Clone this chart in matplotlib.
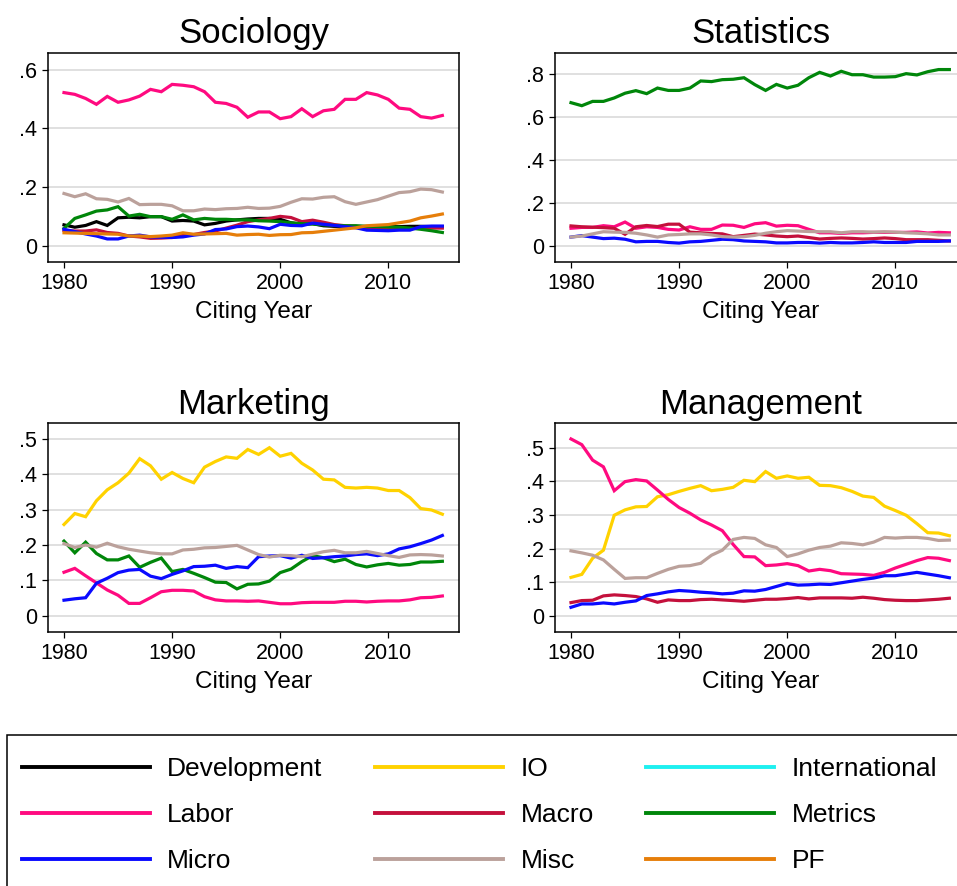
import matplotlib
matplotlib.use("Agg")
import matplotlib.pyplot as plt
from matplotlib.lines import Line2D
from matplotlib.patches import Rectangle
from matplotlib.ticker import FuncFormatter

plt.rcParams['font.family'] = ['Liberation Sans', 'DejaVu Sans']

years = list(range(1980, 2016))

# legend order (row by row)
fields = ['Development', 'IO', 'International',
          'Labor', 'Macro', 'Metrics',
          'Micro', 'Misc', 'PF']
colors = {'Development': '#000000', 'IO': '#FFD200', 'International': '#1EF0F0',
          'Labor': '#FF0A80', 'Macro': '#C4103C', 'Metrics': '#00860A',
          'Micro': '#0A0AFF', 'Misc': '#BBA19B', 'PF': '#E67E0A'}

# Sociology
soc_development = [0.071, 0.063, 0.069, 0.082, 0.069, 0.095, 0.097, 0.095, 0.099, 0.099,
                   0.084, 0.086, 0.084, 0.071, 0.076, 0.084, 0.088, 0.091, 0.093, 0.093,
                   0.090, 0.078, 0.073, 0.075, 0.068, 0.066, 0.065, 0.066, 0.065, 0.064,
                   0.065, 0.065, 0.066, 0.066, 0.065, 0.065]
soc_labor = [0.522, 0.516, 0.502, 0.482, 0.509, 0.489, 0.497, 0.510, 0.533, 0.525,
             0.550, 0.547, 0.542, 0.525, 0.489, 0.485, 0.472, 0.438, 0.456, 0.456,
             0.433, 0.440, 0.467, 0.440, 0.460, 0.465, 0.499, 0.499, 0.522, 0.514,
             0.499, 0.469, 0.465, 0.440, 0.435, 0.444]
soc_macro = [0.052, 0.050, 0.050, 0.054, 0.045, 0.042, 0.033, 0.030, 0.025, 0.026,
             0.028, 0.035, 0.038, 0.045, 0.050, 0.060, 0.070, 0.082, 0.088, 0.093,
             0.100, 0.096, 0.082, 0.087, 0.080, 0.072, 0.068, 0.066, 0.060, 0.058,
             0.057, 0.060, 0.058, 0.060, 0.060, 0.060]
soc_metrics = [0.059, 0.093, 0.105, 0.118, 0.122, 0.133, 0.101, 0.107, 0.099, 0.099,
               0.090, 0.105, 0.088, 0.093, 0.090, 0.090, 0.088, 0.088, 0.085, 0.084,
               0.082, 0.078, 0.075, 0.074, 0.071, 0.069, 0.068, 0.068, 0.066, 0.065,
               0.064, 0.063, 0.060, 0.056, 0.051, 0.045]
soc_micro = [0.056, 0.048, 0.040, 0.033, 0.023, 0.023, 0.033, 0.036, 0.030, 0.029,
             0.028, 0.030, 0.036, 0.040, 0.055, 0.057, 0.065, 0.067, 0.064, 0.058,
             0.073, 0.069, 0.068, 0.077, 0.073, 0.069, 0.065, 0.061, 0.053, 0.052,
             0.051, 0.053, 0.053, 0.065, 0.067, 0.067]
soc_misc = [0.178, 0.167, 0.177, 0.160, 0.158, 0.149, 0.161, 0.140, 0.141, 0.141,
            0.136, 0.119, 0.119, 0.125, 0.123, 0.126, 0.127, 0.131, 0.127, 0.128,
            0.134, 0.148, 0.160, 0.159, 0.165, 0.167, 0.150, 0.141, 0.149, 0.157,
            0.169, 0.181, 0.184, 0.193, 0.191, 0.183]
soc_pf = [0.044, 0.043, 0.042, 0.041, 0.040, 0.039, 0.033, 0.033, 0.031, 0.033,
          0.036, 0.044, 0.039, 0.040, 0.041, 0.042, 0.036, 0.038, 0.039, 0.035,
          0.0375, 0.038, 0.044, 0.045, 0.049, 0.053, 0.057, 0.061, 0.068, 0.070,
          0.072, 0.078, 0.084, 0.095, 0.101, 0.108]

# Statistics
stat_labor = [0.081, 0.085, 0.085, 0.093, 0.088, 0.110, 0.081, 0.088, 0.085, 0.076,
              0.073, 0.088, 0.076, 0.076, 0.096, 0.095, 0.085, 0.102, 0.107, 0.091,
              0.095, 0.093, 0.076, 0.060, 0.060, 0.057, 0.060, 0.060, 0.062, 0.062,
              0.062, 0.062, 0.064, 0.059, 0.062, 0.060]
stat_macro = [0.092, 0.088, 0.086, 0.084, 0.081, 0.053, 0.088, 0.094, 0.089, 0.100,
              0.100, 0.063, 0.060, 0.057, 0.055, 0.042, 0.048, 0.054, 0.050, 0.045,
              0.042, 0.045, 0.038, 0.031, 0.034, 0.036, 0.034, 0.031, 0.033, 0.036,
              0.033, 0.028, 0.028, 0.028, 0.025, 0.022]
stat_metrics = [0.665, 0.651, 0.671, 0.671, 0.687, 0.709, 0.721, 0.707, 0.733, 0.722,
                0.722, 0.733, 0.766, 0.763, 0.772, 0.774, 0.781, 0.749, 0.722, 0.750,
                0.733, 0.746, 0.781, 0.806, 0.789, 0.811, 0.795, 0.795, 0.784, 0.784,
                0.786, 0.800, 0.794, 0.809, 0.819, 0.819]
stat_micro = [0.040, 0.047, 0.040, 0.033, 0.035, 0.030, 0.018, 0.020, 0.020, 0.015,
              0.012, 0.018, 0.020, 0.025, 0.030, 0.028, 0.022, 0.020, 0.018, 0.013,
              0.013, 0.015, 0.015, 0.012, 0.015, 0.013, 0.013, 0.015, 0.018, 0.015,
              0.015, 0.015, 0.020, 0.020, 0.020, 0.022]
stat_misc = [0.040, 0.045, 0.055, 0.065, 0.063, 0.062, 0.058, 0.050, 0.040, 0.050,
             0.052, 0.055, 0.055, 0.050, 0.042, 0.040, 0.042, 0.048, 0.058, 0.065,
             0.070, 0.068, 0.066, 0.065, 0.065, 0.060, 0.065, 0.065, 0.063, 0.065,
             0.063, 0.060, 0.058, 0.055, 0.050, 0.050]

# Marketing
mkt_io = [0.258, 0.289, 0.280, 0.325, 0.356, 0.376, 0.403, 0.444, 0.424, 0.386,
          0.405, 0.388, 0.376, 0.420, 0.436, 0.449, 0.445, 0.470, 0.456, 0.475,
          0.451, 0.459, 0.431, 0.412, 0.386, 0.384, 0.363, 0.361, 0.363, 0.361,
          0.354, 0.354, 0.334, 0.303, 0.299, 0.287]
mkt_labor = [0.123, 0.134, 0.113, 0.093, 0.073, 0.058, 0.035, 0.035, 0.051, 0.068,
             0.072, 0.072, 0.070, 0.054, 0.045, 0.042, 0.042, 0.041, 0.042, 0.038,
             0.034, 0.034, 0.037, 0.038, 0.038, 0.038, 0.041, 0.041, 0.039, 0.041,
             0.042, 0.042, 0.045, 0.051, 0.052, 0.056]
mkt_metrics = [0.211, 0.178, 0.208, 0.176, 0.158, 0.158, 0.169, 0.137, 0.151, 0.163,
               0.125, 0.131, 0.120, 0.108, 0.095, 0.094, 0.076, 0.089, 0.090, 0.098,
               0.122, 0.132, 0.153, 0.170, 0.164, 0.153, 0.160, 0.145, 0.138, 0.144,
               0.148, 0.143, 0.145, 0.152, 0.152, 0.154]
mkt_micro = [0.044, 0.048, 0.051, 0.092, 0.106, 0.122, 0.129, 0.131, 0.112, 0.105,
             0.117, 0.127, 0.139, 0.140, 0.143, 0.134, 0.139, 0.136, 0.167, 0.169,
             0.170, 0.163, 0.171, 0.162, 0.164, 0.167, 0.169, 0.173, 0.175, 0.170,
             0.175, 0.189, 0.195, 0.204, 0.214, 0.227]
mkt_misc = [0.204, 0.193, 0.200, 0.194, 0.205, 0.195, 0.188, 0.183, 0.178, 0.175,
            0.175, 0.186, 0.188, 0.192, 0.193, 0.196, 0.199, 0.186, 0.173, 0.166,
            0.171, 0.170, 0.167, 0.174, 0.181, 0.185, 0.178, 0.178, 0.182, 0.176,
            0.170, 0.165, 0.172, 0.173, 0.172, 0.169]

# Management
mgt_io = [0.114, 0.123, 0.171, 0.195, 0.299, 0.315, 0.324, 0.325, 0.354, 0.360,
          0.370, 0.379, 0.387, 0.372, 0.376, 0.382, 0.403, 0.399, 0.429, 0.409,
          0.416, 0.409, 0.412, 0.388, 0.387, 0.381, 0.370, 0.356, 0.352, 0.326,
          0.313, 0.299, 0.274, 0.247, 0.246, 0.238]
mgt_labor = [0.526, 0.509, 0.463, 0.443, 0.372, 0.399, 0.405, 0.401, 0.374, 0.346,
             0.322, 0.305, 0.285, 0.270, 0.253, 0.212, 0.176, 0.175, 0.149, 0.151,
             0.155, 0.149, 0.133, 0.138, 0.134, 0.125, 0.124, 0.123, 0.120, 0.129,
             0.142, 0.153, 0.164, 0.173, 0.171, 0.164]
mgt_macro = [0.039, 0.045, 0.046, 0.059, 0.062, 0.060, 0.057, 0.050, 0.040, 0.047,
             0.045, 0.045, 0.048, 0.049, 0.047, 0.045, 0.043, 0.046, 0.049, 0.049,
             0.051, 0.054, 0.050, 0.053, 0.053, 0.053, 0.052, 0.055, 0.052, 0.048,
             0.046, 0.045, 0.045, 0.047, 0.049, 0.052]
mgt_micro = [0.025, 0.035, 0.035, 0.038, 0.035, 0.040, 0.044, 0.060, 0.065, 0.071,
             0.075, 0.073, 0.070, 0.068, 0.065, 0.067, 0.074, 0.073, 0.078, 0.087,
             0.096, 0.091, 0.092, 0.094, 0.093, 0.098, 0.103, 0.108, 0.112, 0.119,
             0.119, 0.124, 0.129, 0.124, 0.119, 0.113]
mgt_misc = [0.193, 0.187, 0.180, 0.166, 0.138, 0.111, 0.113, 0.113, 0.126, 0.138,
            0.147, 0.149, 0.156, 0.180, 0.195, 0.227, 0.233, 0.230, 0.211, 0.203,
            0.176, 0.184, 0.195, 0.203, 0.207, 0.217, 0.215, 0.211, 0.219, 0.233,
            0.231, 0.233, 0.233, 0.230, 0.224, 0.225]

panels = [
    ('Sociology', (48, 53, 459, 262), (-0.0556, 0.657), [0, .2, .4, .6],
     {'Development': soc_development, 'Labor': soc_labor, 'Macro': soc_macro,
      'Metrics': soc_metrics, 'Micro': soc_micro, 'Misc': soc_misc, 'PF': soc_pf}),
    ('Statistics', (555, 53, 966, 262), (-0.0758, 0.896), [0, .2, .4, .6, .8],
     {'Labor': stat_labor, 'Macro': stat_macro, 'Metrics': stat_metrics,
      'Micro': stat_micro, 'Misc': stat_misc}),
    ('Marketing', (48, 423.3, 459, 631.7), (-0.045, 0.544), [0, .1, .2, .3, .4, .5],
     {'IO': mkt_io, 'Labor': mkt_labor, 'Metrics': mkt_metrics,
      'Micro': mkt_micro, 'Misc': mkt_misc}),
    ('Management', (555, 423.3, 966, 631.7), (-0.0476, 0.5726), [0, .1, .2, .3, .4, .5],
     {'IO': mgt_io, 'Labor': mgt_labor, 'Macro': mgt_macro,
      'Micro': mgt_micro, 'Misc': mgt_misc}),
]

W, H = 957, 886
fig = plt.figure(figsize=(W / 100, H / 100), dpi=100)


def ylab(v, pos):
    if abs(v) < 1e-9:
        return '0'
    return f'{v:.1f}'.lstrip('0')


for title, (l, t, r, b), ylim, yticks, series in panels:
    ax = fig.add_axes([l / W, 1 - b / H, (r - l) / W, (b - t) / H])
    for name in fields:
        if name in series:
            ax.plot(years, series[name], color=colors[name], lw=2.3, solid_joinstyle='miter')
    ax.set_xlim(1978.52, 2016.54)
    ax.set_ylim(*ylim)
    ax.set_xticks([1980, 1990, 2000, 2010])
    ax.set_yticks(yticks)
    ax.yaxis.set_major_formatter(FuncFormatter(ylab))
    ax.grid(axis='y', color='#DDDDDD', lw=1.3)
    ax.set_axisbelow(True)
    ax.tick_params(labelsize=15.5, length=4, width=0.9, pad=4, color='black')
    for sp in ax.spines.values():
        sp.set_linewidth(1.1)
    ax.set_title(title, fontsize=25, pad=7)
    ax.set_xlabel('Citing Year', fontsize=17.5, labelpad=5)

# legend box (runs past the right and bottom edge)
fig.patches.append(Rectangle((7 / W, -1.0), 2.0, 2 - 735 / H, transform=fig.transFigure,
                             fill=False, edgecolor='black', lw=1.1))

handles = [Line2D([], [], color=colors[f], lw=2.8) for f in fields]
order = [0, 3, 6, 1, 4, 7, 2, 5, 8]
fig.legend([handles[i] for i in order], [fields[i] for i in order],
           ncol=3, loc='upper left', bbox_to_anchor=(22 / W, 1 - 757 / H),
           frameon=False, fontsize=19, handlelength=4.85, handletextpad=0.65,
           columnspacing=2.0, labelspacing=0.83, borderpad=0, borderaxespad=0)

fig.savefig('out.png', dpi=100)
